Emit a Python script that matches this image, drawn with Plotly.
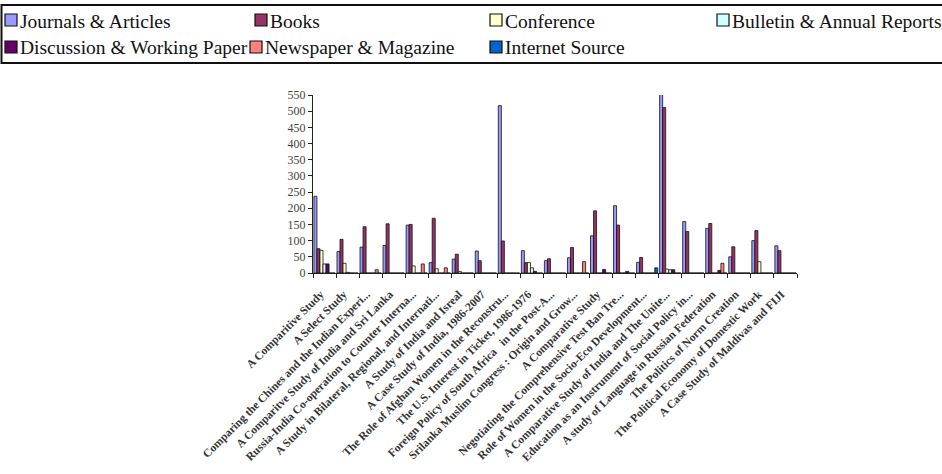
import plotly.graph_objects as go

categories = [
    "A Comparitive Study",
    "A Select Study",
    "Comparing the Chines and the Indian Experi...",
    "A Comparitve Study of India and Sri Lanka",
    "Russia-India Co-operation to Counter Interna...",
    "A Study in Bilateral, Regional, and Internati...",
    "A Study of India and Isreal",
    "A Case Study of India, 1986-2007",
    "The Role of Afghan Women in the Reconstru...",
    "The U.S. Interest in Ticket, 1986-1976",
    "Foreign Policy of South Africa   in the Post-A...",
    "Srilanka Muslim Congress : Origin and Grow...",
    "A Comparative Study",
    "Negotiating the Comprehensive Test Ban Tre...",
    "Role of Women in the Socio-Eco Development...",
    "A Comparative Study of India and The Unite...",
    "Education as an Instrument of Social Policy in...",
    "A study of Language in Russian Federation",
    "The Politics of Norm Creation",
    "The Political Economy of Domestic Work",
    "A Case Study of Maldivas and FIJI",
]

journals = [237, 66, 80, 85, 148, 32, 43, 68, 517, 69, 38, 47, 115, 208, 33, 555, 159, 138, 50, 100, 84]
books = [75, 104, 143, 152, 150, 169, 58, 38, 99, 32, 44, 79, 192, 148, 48, 511, 128, 153, 81, 131, 69]
conference = [70, 30, 0, 0, 22, 13, 5, 0, 0, 32, 0, 0, 0, 0, 0, 12, 0, 0, 0, 35, 0]
bulletin = [28, 2, 0, 0, 0, 0, 0, 0, 0, 16, 0, 0, 0, 0, 0, 10, 0, 0, 0, 0, 0]
discussion = [28, 0, 0, 0, 0, 0, 0, 0, 0, 5, 0, 0, 11, 5, 0, 10, 0, 8, 0, 0, 0]
newspaper = [0, 0, 10, 0, 28, 16, 0, 0, 0, 0, 0, 35, 0, 0, 0, 0, 0, 30, 0, 0, 0]
internet = [0, 0, 0, 0, 0, 0, 0, 0, 0, 0, 0, 0, 0, 0, 16, 0, 0, 0, 0, 0, 0]

series_names = ["Journals & Articles", "Books", "Conference", "Bulletin & Annual Reports",
                "Discussion & Working Paper", "Newspaper & Magazine", "Internet Source"]
series_values = [journals, books, conference, bulletin, discussion, newspaper, internet]
series_colors = ["#9999FF", "#993366", "#FFFFCC", "#CCFFFF", "#660066", "#FF8080", "#0066CC"]

y_ticks = list(range(0, 551, 50))

W, H = 942, 474
L, R, T, B = 313, 797, 95, 273  # plot area in pixels


def px_x(p):
    return (p - L) / (R - L)


def px_y(p):
    return (B - p) / (B - T)


fig = go.Figure()
for name, vals, color in zip(series_names, series_values, series_colors):
    fig.add_trace(go.Bar(
        name=name, x=categories, y=vals, showlegend=False,
        marker=dict(color=color, line=dict(color="#111111", width=0.8)),
    ))

# manual legend (box, swatches, labels) laid out like the reference
legend_pos = [(5, 20), (255, 20), (490, 20), (717, 20),
              (5, 47), (250, 47), (490, 47)]
shapes = [dict(type="rect", xref="paper", yref="paper",
               x0=px_x(1.5), x1=px_x(W + 5), y0=px_y(63), y1=px_y(5),
               line=dict(color="#111111", width=2), fillcolor="rgba(0,0,0,0)", layer="below")]
annotations = []
for (lx, ly), name, color in zip(legend_pos, series_names, series_colors):
    shapes.append(dict(type="rect", xref="paper", yref="paper",
                       x0=px_x(lx), x1=px_x(lx + 12), y0=px_y(ly + 6), y1=px_y(ly - 6),
                       line=dict(color="#111111", width=1.2), fillcolor=color))
    annotations.append(dict(text=name, xref="paper", yref="paper",
                            x=px_x(lx + 13), y=px_y(ly + 1), xanchor="left", yanchor="middle",
                            showarrow=False,
                            font=dict(family="Liberation Serif", size=19.5, color="#111111")))

fig.update_layout(
    width=W, height=H,
    paper_bgcolor="white", plot_bgcolor="white",
    barmode="group", bargap=0.08, bargroupgap=0,
    margin=dict(l=L, r=W - R, t=T, b=H - B),
    font=dict(family="Liberation Serif", color="#222222"),
    showlegend=False,
    shapes=shapes,
    annotations=annotations,
    xaxis=dict(
        type="category", tickangle=-45, tickson="boundaries",
        ticks="outside", ticklen=4, tickcolor="#222222",
        showline=True, linecolor="#222222", linewidth=1.2,
        showgrid=False, automargin=False, ticklabelstandoff=9, ticklabelshift=-4,
        tickfont=dict(family="Liberation Serif", size=11.5, color="#333333", weight="bold"),
    ),
    yaxis=dict(
        range=[0, 550], tickvals=y_ticks, ticks="outside", ticklen=4,
        tickcolor="#222222", showline=True, linecolor="#222222", linewidth=1.2,
        showgrid=False, zeroline=False, automargin=False,
        tickfont=dict(family="Liberation Serif", size=12, color="#444444"),
    ),
)

# remove the page's default body margin so the figure fills the window exactly
fig.write_html("out.html", config={"displayModeBar": False},
               post_script="document.body.style.margin='0';")
